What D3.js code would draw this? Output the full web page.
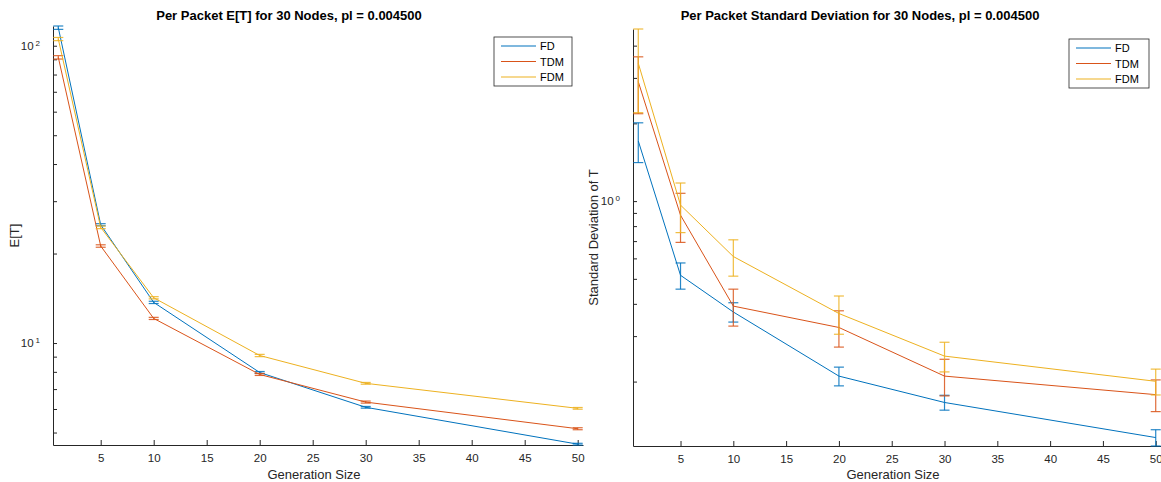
<!DOCTYPE html>
<html>
<head>
<meta charset="utf-8">
<script src="https://cdn.jsdelivr.net/npm/d3@7"></script>
<style>
  body { margin: 0; background: #fff; }
  svg { display: block; font-family: "Liberation Sans", Arial, sans-serif; }
  .axis path, .axis line { stroke: #262626; }
  .axis text { fill: #262626; font-size: 11.5px; font-family: "Liberation Sans", Arial, sans-serif; }
</style>
</head>
<body>
<svg width="1161" height="482"></svg>
<script>
// x positions (generation sizes) and tick labels
const genSizes = [1, 5, 10, 20, 30, 50]
const xTickValues = [5, 10, 15, 20, 25, 30, 35, 40, 45, 50]
const seriesNames = ['FD', 'TDM', 'FDM']
const seriesColors = ['#0072BD', '#D95319', '#EDB120']

// per packet E[T]
const etFD = [115, 25.0, 13.7, 7.96, 6.08, 4.57]
const etFDErr = [1.5, 0.2, 0.12, 0.06, 0.04, 0.03]
const etTDM = [91.4, 21.2, 12.1, 7.84, 6.33, 5.15]
const etTDMErr = [1.2, 0.2, 0.1, 0.06, 0.05, 0.04]
const etFDM = [105.3, 24.5, 14.2, 9.08, 7.32, 6.03]
const etFDMErr = [1.3, 0.25, 0.12, 0.08, 0.05, 0.04]

// per packet standard deviation
const sdFD = [1.71, 0.516, 0.372, 0.210, 0.166, 0.1214]
const sdFDErr = [0.30, 0.06, 0.032, 0.0175, 0.011, 0.0088]
const sdTDM = [2.90, 0.882, 0.392, 0.324, 0.210, 0.178]
const sdTDMErr = [0.72, 0.19, 0.064, 0.052, 0.034, 0.025]
const sdFDM = [3.42, 0.965, 0.610, 0.367, 0.251, 0.2005]
const sdFDMErr = [1.22, 0.21, 0.098, 0.062, 0.033, 0.023]

const svg = d3.select('svg')

function drawPanel(cfg) {
  const series = cfg.means.map((m, i) => ({
    name: seriesNames[i],
    color: seriesColors[i],
    points: genSizes.map((g, j) => ({ x: g, y: m[j], e: cfg.errs[i][j] }))
  }))
  const allPts = series.flatMap(s => s.points)
  const yMin = d3.min(allPts, p => p.y - p.e)
  const yMax = d3.max(allPts, p => p.y + p.e)

  const x = d3.scaleLinear().domain([0.5, 50.5]).range([cfg.left, cfg.right])
  const y = d3.scaleLog().domain([yMin, yMax]).range([cfg.bottom, cfg.top])

  const g = svg.append('g')

  // log ticks: 1..9 per decade
  const yTicks = []
  for (let p = Math.floor(Math.log10(yMin)); p <= Math.ceil(Math.log10(yMax)); p++) {
    for (let k = 1; k <= 9; k++) {
      const v = k * Math.pow(10, p)
      if (v >= yMin && v <= yMax) yTicks.push(v)
    }
  }

  g.append('g')
    .attr('class', 'axis')
    .attr('transform', `translate(0,${cfg.bottom})`)
    .call(d3.axisBottom(x).tickValues(xTickValues).tickSizeInner(-5).tickSizeOuter(0).tickPadding(9))

  const yAxis = g.append('g')
    .attr('class', 'axis')
    .attr('transform', `translate(${cfg.left},0)`)
    .call(d3.axisLeft(y).tickValues(yTicks).tickSizeInner(-4).tickSizeOuter(0).tickPadding(6).tickFormat(() => ''))

  yAxis.selectAll('.tick text').each(function(d) {
    const p = Math.log10(d)
    if (Math.abs(p - Math.round(p)) < 1e-9) {
      const t = d3.select(this).attr('x', -13)
      t.text('10')
      t.append('tspan').attr('dx', 2).attr('dy', '-0.55em').style('font-size', '8px').text(Math.round(p))
    }
  })
  g.selectAll('.axis path.domain').attr('stroke-width', 1)

  const line = d3.line().x(p => x(p.x)).y(p => y(p.y))

  series.forEach(s => {
    const sg = g.append('g')
    sg.append('path')
      .attr('d', line(s.points))
      .attr('fill', 'none')
      .attr('stroke', s.color)
      .attr('stroke-width', 1)
    const bars = sg.selectAll('.bar').data(s.points).enter().append('g')
      .attr('stroke', s.color)
      .attr('stroke-width', 1.2)
      .attr('stroke-opacity', 0.85)
    bars.append('line')
      .attr('x1', p => x(p.x)).attr('x2', p => x(p.x))
      .attr('y1', p => y(p.y - p.e)).attr('y2', p => y(p.y + p.e))
    bars.append('line')
      .attr('x1', p => x(p.x) - 5).attr('x2', p => x(p.x) + 5)
      .attr('y1', p => y(p.y + p.e)).attr('y2', p => y(p.y + p.e))
    bars.append('line')
      .attr('x1', p => x(p.x) - 5).attr('x2', p => x(p.x) + 5)
      .attr('y1', p => y(p.y - p.e)).attr('y2', p => y(p.y - p.e))
  })

  // title and axis labels
  g.append('text')
    .attr('x', cfg.titleX).attr('y', 20)
    .attr('text-anchor', 'middle')
    .style('font-size', '13px').style('font-weight', 'bold').attr('fill', '#000')
    .text(cfg.title)
  g.append('text')
    .attr('x', (cfg.left + cfg.right) / 2 - 4).attr('y', 479)
    .attr('text-anchor', 'middle')
    .style('font-size', '13px').attr('fill', '#262626')
    .text('Generation Size')
  g.append('text')
    .attr('transform', `translate(${cfg.yLabelX},${(cfg.top + cfg.bottom) / 2}) rotate(-90)`)
    .attr('text-anchor', 'middle')
    .style('font-size', '13px').attr('fill', '#262626')
    .text(cfg.yLabel)

  // legend
  const lg = g.append('g').attr('transform', `translate(${cfg.legendX},${cfg.legendY})`)
  lg.append('rect')
    .attr('width', cfg.legendW).attr('height', 49)
    .attr('fill', '#fff').attr('stroke', '#262626').attr('stroke-width', 0.8)
  series.forEach((s, i) => {
    const ly = 9 + i * 15.5
    lg.append('line')
      .attr('x1', 7).attr('x2', 42).attr('y1', ly).attr('y2', ly)
      .attr('stroke', s.color).attr('stroke-width', 1.2)
    lg.append('text')
      .attr('x', 46).attr('y', ly + 4)
      .style('font-size', '11px').attr('fill', '#000')
      .text(s.name)
  })
}

drawPanel({
  means: [etFD, etTDM, etFDM],
  errs: [etFDErr, etTDMErr, etFDMErr],
  left: 53, right: 583, top: 26, bottom: 445,
  title: 'Per Packet E[T] for 30 Nodes, pl = 0.004500',
  titleX: 289,
  yLabel: 'E[T]', yLabelX: 19,
  legendX: 494, legendY: 37, legendW: 78
})

drawPanel({
  means: [sdFD, sdTDM, sdFDM],
  errs: [sdFDErr, sdTDMErr, sdFDMErr],
  left: 633, right: 1161, top: 29, bottom: 446,
  title: 'Per Packet Standard Deviation for 30 Nodes, pl = 0.004500',
  titleX: 860,
  yLabel: 'Standard Deviation of T', yLabelX: 598,
  legendX: 1069, legendY: 39, legendW: 80
})
</script>
</body>
</html>
